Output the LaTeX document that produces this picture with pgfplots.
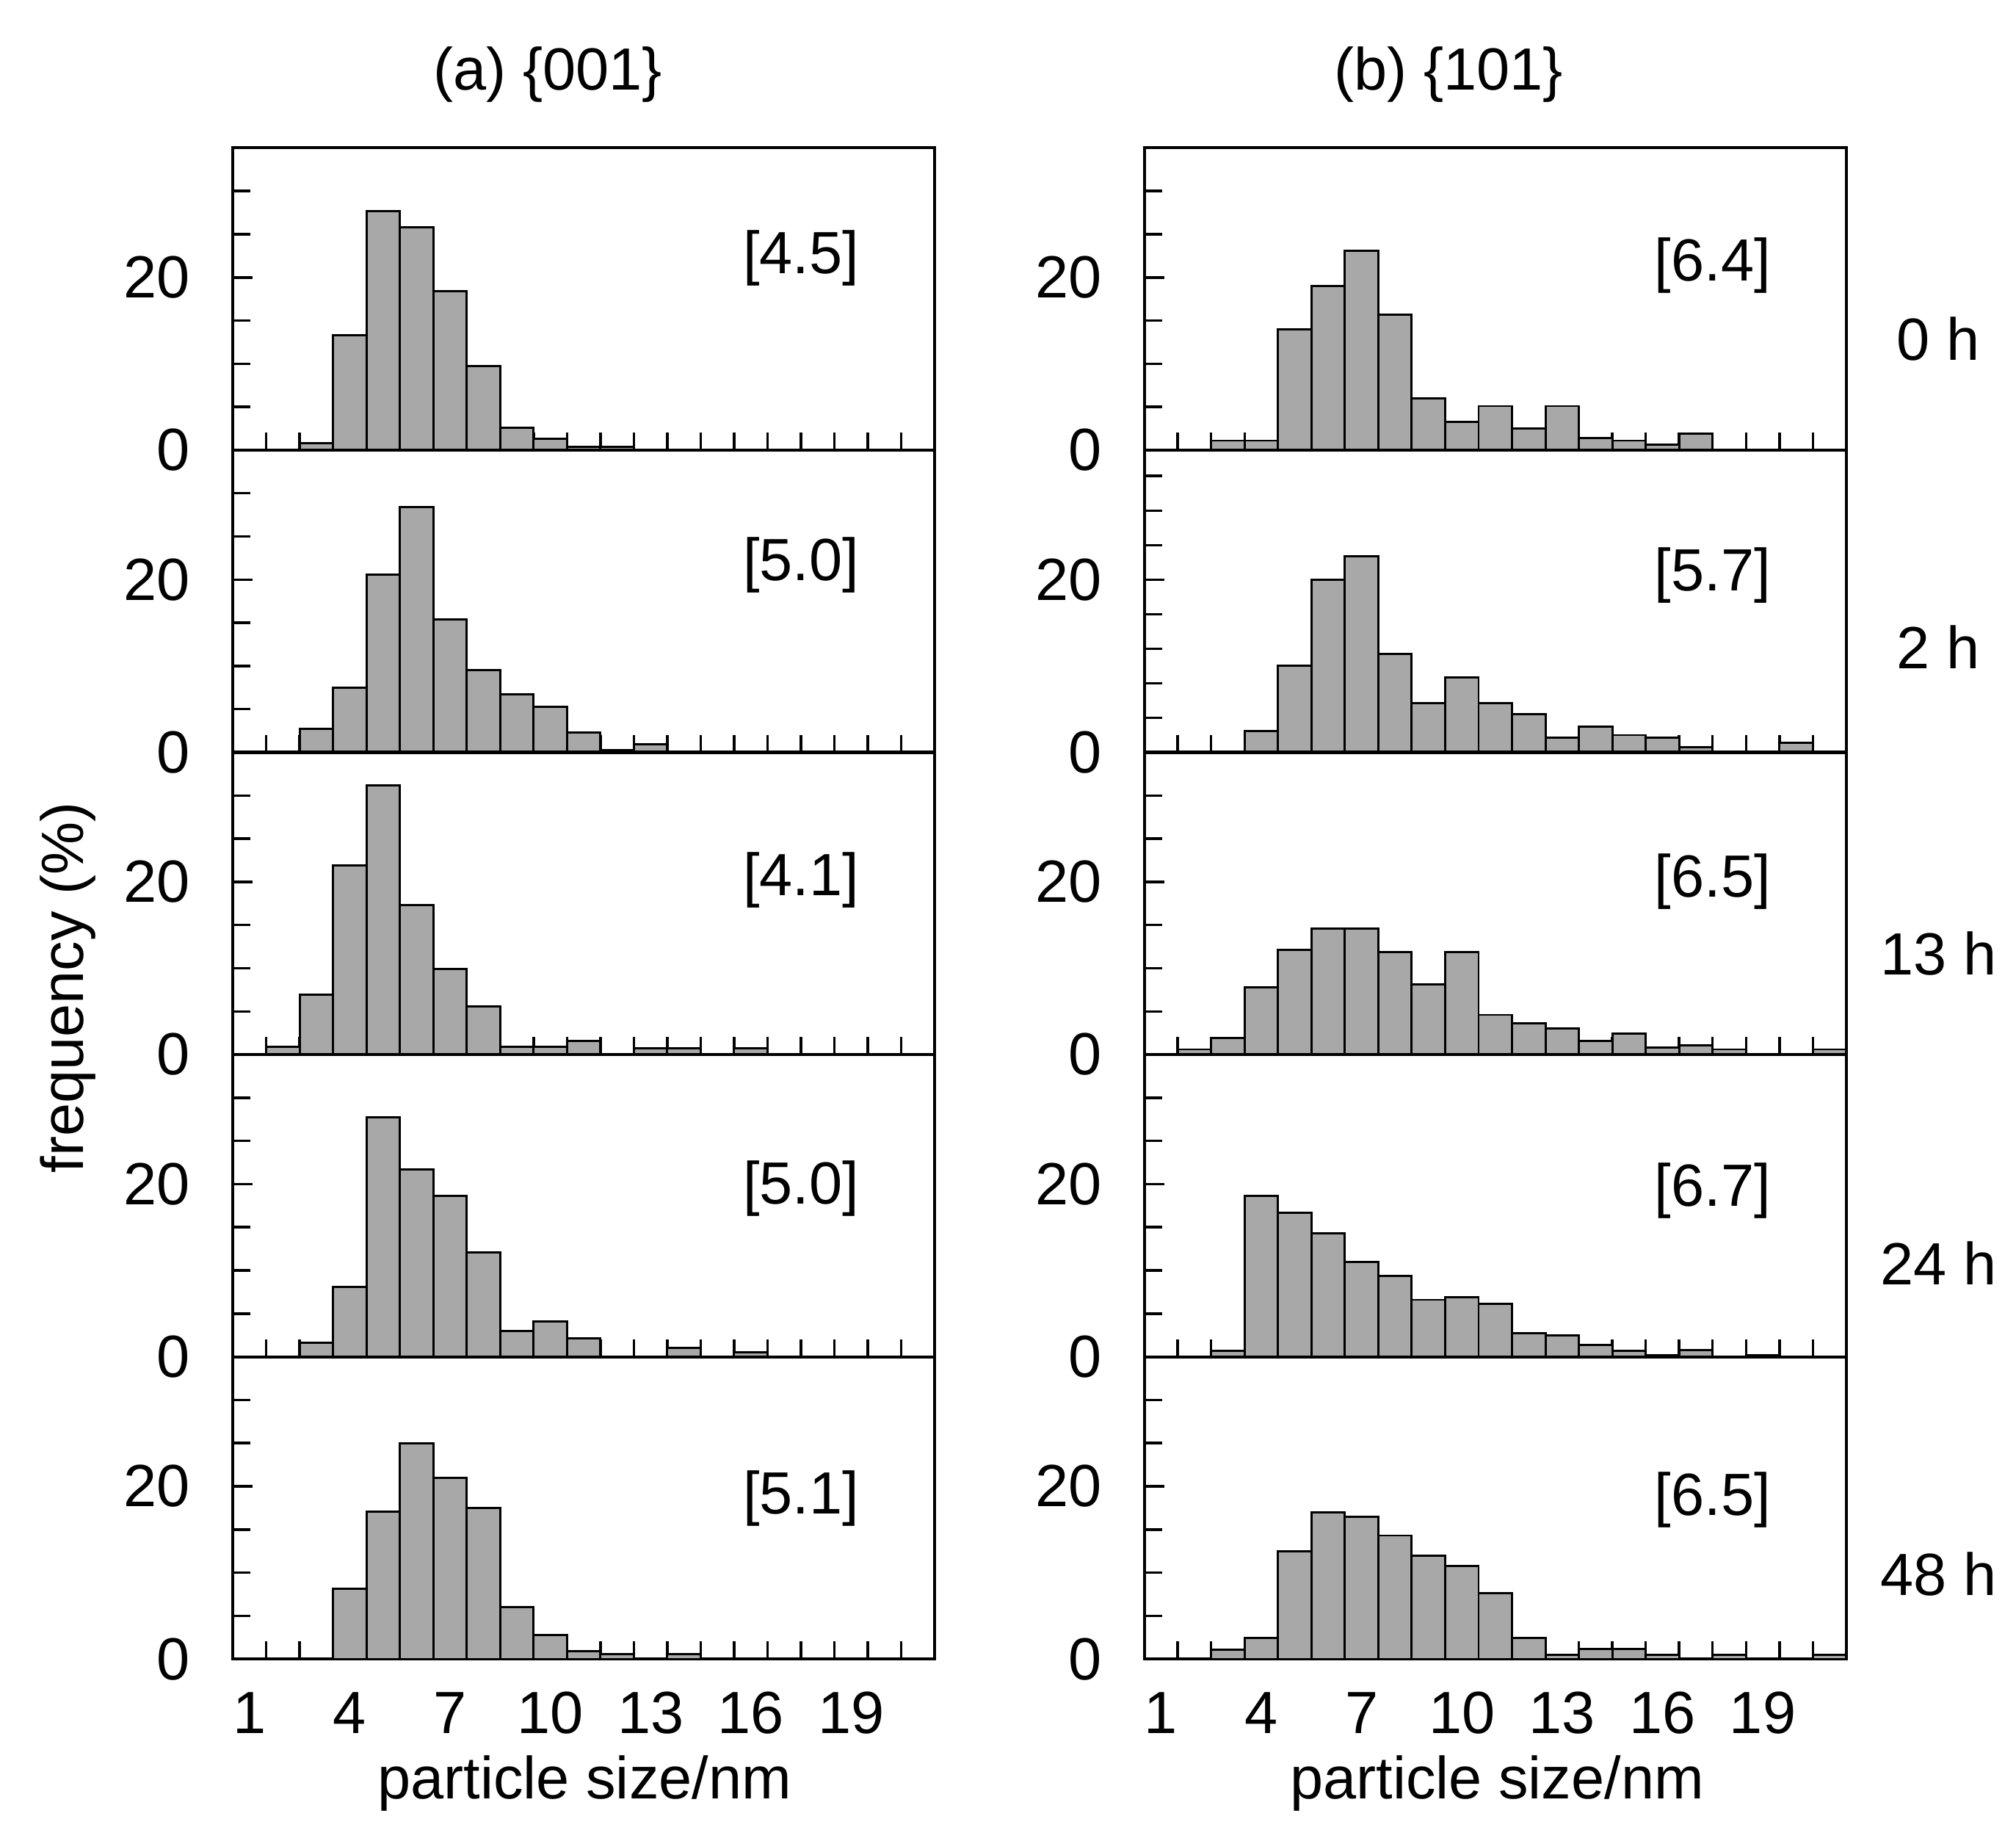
\documentclass[border=0pt]{standalone}
\usepackage{fontspec}
\setmainfont{Liberation Sans}
\usepackage{pgfplots}
\pgfplotsset{compat=1.18}
\definecolor{bargray}{HTML}{A8A8A8}
\newcommand\figfont{\fontsize{13.9}{16.7}\selectfont}
\pgfplotsset{
  hist/.style={
    scale only axis, width=163.8pt, height=70.5pt,
    anchor=south west,
    xmin=0.5, xmax=21.5, ymin=0, ymax=35,
    axis line style={line width=0.7pt},
    tick align=inside, tick pos=left,
    xtick={1,4,7,10,13,16,19},
    minor xtick={1.5,2.5,...,20.5},
    major x tick style={draw=none},
    ytick={0,20},
    minor ytick={5,10,15,25,30},
    major tick length=4.6pt, minor tick length=4.1pt,
    every tick/.style={line width=0.6pt, black},
    ticklabel style={font=\figfont},
    /pgf/number format/assume math mode=true,
    yticklabel style={xshift=-6.4pt},
    xticklabel style={yshift=-4.2pt},
    xticklabels={},
  },
  bars/.style={ybar, bar width=1, bar shift=0pt, fill=bargray, draw=black, line width=0.5pt},
  last/.style={xticklabels={1,4,7,10,13,16,19}},
}
\begin{document}
\begin{tikzpicture}
\useasboundingbox (0,0) rectangle (470.4pt,429.3pt);

% (a) {001}
\begin{axis}[hist, at={(54.3pt,324.3pt)}]
\addplot[bars] coordinates {(3,0.8) (4,13.3) (5,27.7) (6,25.8) (7,18.4) (8,9.7) (9,2.6) (10,1.3) (11,0.4) (12,0.4)};
\node[font=\figfont] at (axis cs:17.5,22.2) {[4.5]};
\end{axis}
\begin{axis}[hist, at={(54.3pt,253.8pt)}]
\addplot[bars] coordinates {(3,2.7) (4,7.5) (5,20.6) (6,28.4) (7,15.4) (8,9.5) (9,6.7) (10,5.3) (11,2.3) (12,0.3) (13,0.9)};
\node[font=\figfont] at (axis cs:17.5,21.7) {[5.0]};
\end{axis}
\begin{axis}[hist, at={(54.3pt,183.3pt)}]
\addplot[bars] coordinates {(2,0.9) (3,6.9) (4,21.9) (5,31.2) (6,17.3) (7,9.9) (8,5.6) (9,0.9) (10,0.9) (11,1.6) (13,0.7) (14,0.7) (16,0.7)};
\node[font=\figfont] at (axis cs:17.5,20.2) {[4.1]};
\end{axis}
\begin{axis}[hist, at={(54.3pt,112.8pt)}]
\addplot[bars] coordinates {(3,1.6) (4,8.1) (5,27.7) (6,21.7) (7,18.6) (8,12.1) (9,3.0) (10,4.1) (11,2.1) (14,1.0) (16,0.5)};
\node[font=\figfont] at (axis cs:17.5,19.5) {[5.0]};
\end{axis}
\begin{axis}[hist, last, at={(54.3pt,42.3pt)}]
\addplot[bars] coordinates {(4,8.1) (5,17.1) (6,25.0) (7,21.0) (8,17.5) (9,6.0) (10,2.8) (11,0.9) (12,0.6) (14,0.6)};
\node[font=\figfont] at (axis cs:17.5,18.6) {[5.1]};
\end{axis}

% (b) {101}
\begin{axis}[hist, at={(267pt,324.3pt)}]
\addplot[bars] coordinates {(3,1.1) (4,1.1) (5,14.0) (6,19.0) (7,23.1) (8,15.7) (9,6.0) (10,3.3) (11,5.1) (12,2.5) (13,5.1) (14,1.4) (15,1.1) (16,0.6) (17,1.9)};
\node[font=\figfont] at (axis cs:17.5,21.4) {[6.4]};
\end{axis}
\begin{axis}[hist, at={(267pt,253.8pt)}, minor ytick={4,8,12,16,24,28,32}]
\addplot[bars] coordinates {(4,2.5) (5,10.0) (6,20.0) (7,22.7) (8,11.4) (9,5.7) (10,8.7) (11,5.7) (12,4.4) (13,1.7) (14,3.0) (15,2.0) (16,1.7) (17,0.6) (20,1.1)};
\node[font=\figfont] at (axis cs:17.5,20.5) {[5.7]};
\end{axis}
\begin{axis}[hist, at={(267pt,183.3pt)}]
\addplot[bars] coordinates {(2,0.6) (3,1.9) (4,7.8) (5,12.1) (6,14.6) (7,14.6) (8,11.9) (9,8.1) (10,11.9) (11,4.6) (12,3.6) (13,3.0) (14,1.6) (15,2.4) (16,0.8) (17,1.1) (18,0.6) (21,0.6)};
\node[font=\figfont] at (axis cs:17.5,20.0) {[6.5]};
\end{axis}
\begin{axis}[hist, at={(267pt,112.8pt)}]
\addplot[bars] coordinates {(3,0.7) (4,18.6) (5,16.7) (6,14.3) (7,11.0) (8,9.4) (9,6.6) (10,6.9) (11,6.1) (12,2.7) (13,2.5) (14,1.4) (15,0.7) (16,0.2) (17,0.8) (19,0.2)};
\node[font=\figfont] at (axis cs:17.5,19.2) {[6.7]};
\end{axis}
\begin{axis}[hist, last, at={(267pt,42.3pt)}]
\addplot[bars] coordinates {(3,1.1) (4,2.4) (5,12.5) (6,17.0) (7,16.5) (8,14.3) (9,12.0) (10,10.8) (11,7.6) (12,2.4) (13,0.5) (14,1.2) (15,1.2) (16,0.5) (18,0.5) (21,0.5)};
\node[font=\figfont] at (axis cs:17.5,18.4) {[6.5]};
\end{axis}

% titles and labels
\node[font=\figfont] at (127.8pt,411.9pt) {(a) \{001\}};
\node[font=\figfont] at (338pt,411.9pt) {(b) \{101\}};
\node[font=\figfont, rotate=90] at (15.9pt,198.9pt) {frequency (\%)};
\node[font=\figfont, anchor=base] at (136.4pt,9.7pt) {particle size/nm};
\node[font=\figfont, anchor=base] at (349.3pt,9.7pt) {particle size/nm};
\node[font=\figfont] at (452.3pt,350.3pt) {0 h};
\node[font=\figfont] at (452.3pt,278.4pt) {2 h};
\node[font=\figfont] at (452.3pt,206.9pt) {13 h};
\node[font=\figfont] at (452.3pt,134.6pt) {24 h};
\node[font=\figfont] at (452.3pt,62.2pt) {48 h};
\end{tikzpicture}
\end{document}
